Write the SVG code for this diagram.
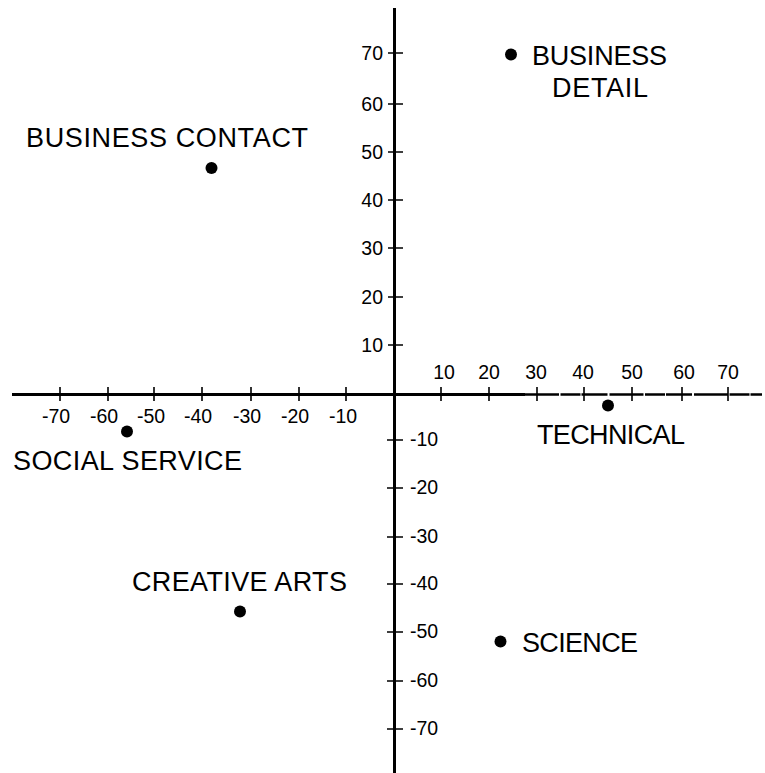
<svg xmlns="http://www.w3.org/2000/svg" width="765" height="773" viewBox="0 0 765 773">
<style>
.ax{stroke:#000;stroke-width:3;fill:none}
.tk{stroke:#000;stroke-width:1.6;fill:none}
.num{font-family:"Liberation Sans",Arial,sans-serif;font-size:19.5px;fill:#000}
.lbl{font-family:"Liberation Sans",Arial,sans-serif;font-size:27px;fill:#000}
.dot{fill:#000}
</style>
<rect width="765" height="773" fill="#fff"/>
<g id="axes">
<line class="ax" x1="394.5" y1="8" x2="394.5" y2="773"/>
<line class="ax" x1="12" y1="394.5" x2="525" y2="394.5"/>
<line x1="525" y1="394.5" x2="762" y2="394.5" stroke="#000" stroke-width="2.4" stroke-dasharray="34 1.5 20 1 26 2"/>
</g>
<g id="ticks">
<path class="tk" d="M388 53H403M388 104H403M388 152H403M388 200H403M388 248H403M388 297H403M388 345H403"/>
<path class="tk" d="M387 440H403M387 488H403M387 537H403M387 584H403M387 632H403M387 681H403M387 729H403"/>
<path class="tk" d="M441 387V401M489 387V401M537 387V401M584 387V401M632 387V401M682 387V401M728 387V401"/>
<path class="tk" d="M60 387V401M108 387V401M154 387V401M202 387V401M251 387V401M299 387V401M346 387V401"/>
</g>
<g id="y-labels" class="num" text-anchor="end">
<text x="383" y="60">70</text>
<text x="383" y="111">60</text>
<text x="383" y="159">50</text>
<text x="383" y="207">40</text>
<text x="383" y="255">30</text>
<text x="383" y="304">20</text>
<text x="383" y="352">10</text>
</g>
<g id="y-neg-labels" class="num" text-anchor="start">
<text x="410" y="446">-10</text>
<text x="410" y="494">-20</text>
<text x="410" y="543">-30</text>
<text x="410" y="590">-40</text>
<text x="410" y="638">-50</text>
<text x="410" y="687">-60</text>
<text x="410" y="735">-70</text>
</g>
<g id="x-labels" class="num" text-anchor="middle">
<text x="444" y="379">10</text>
<text x="489" y="379">20</text>
<text x="536" y="379">30</text>
<text x="583" y="379">40</text>
<text x="632" y="379">50</text>
<text x="684" y="379">60</text>
<text x="728" y="379">70</text>
</g>
<g id="x-neg-labels" class="num" text-anchor="middle">
<text x="56" y="423">-70</text>
<text x="104" y="423">-60</text>
<text x="151" y="423">-50</text>
<text x="198" y="423">-40</text>
<text x="247" y="423">-30</text>
<text x="295" y="423">-20</text>
<text x="343" y="423">-10</text>
</g>
<g id="business-detail">
<circle class="dot" cx="511" cy="54.5" r="6"/>
<text class="lbl" x="532" y="65" textLength="135" lengthAdjust="spacing">BUSINESS</text>
<text class="lbl" x="552" y="97" textLength="96" lengthAdjust="spacing">DETAIL</text>
</g>
<g id="business-contact">
<circle class="dot" cx="211.5" cy="168" r="6"/>
<text class="lbl" x="26" y="147" textLength="282" lengthAdjust="spacing">BUSINESS CONTACT</text>
</g>
<g id="technical">
<circle class="dot" cx="608" cy="405.5" r="6"/>
<text class="lbl" x="537" y="444" textLength="148" lengthAdjust="spacing">TECHNICAL</text>
</g>
<g id="social-service">
<circle class="dot" cx="127" cy="431.5" r="6"/>
<text class="lbl" x="13" y="470" textLength="229" lengthAdjust="spacing">SOCIAL SERVICE</text>
</g>
<g id="creative-arts">
<circle class="dot" cx="240" cy="611.5" r="6"/>
<text class="lbl" x="132" y="591" textLength="215" lengthAdjust="spacing">CREATIVE ARTS</text>
</g>
<g id="science">
<circle class="dot" cx="500.5" cy="641.5" r="6"/>
<text class="lbl" x="522" y="652" textLength="116" lengthAdjust="spacing">SCIENCE</text>
</g>
</svg>
